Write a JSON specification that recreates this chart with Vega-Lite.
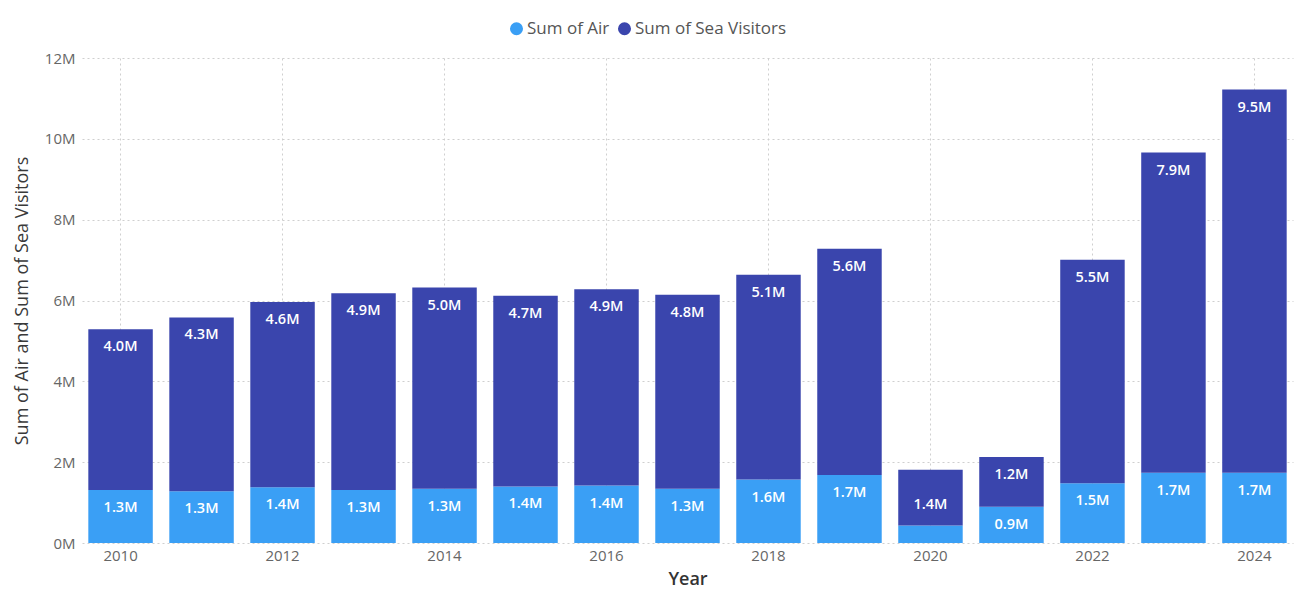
{
  "$schema": "https://vega.github.io/schema/vega-lite/v6.json",
  "width": 1211,
  "height": 485,
  "autosize": {"type": "none"},
  "padding": {"left": 82, "top": 58, "right": 3, "bottom": 55},
  "background": "white",
  "config": {
    "font": "Open Sans",
    "view": {"stroke": null},
    "locale": {"number": {"decimal": ".", "thousands": ",", "grouping": [3], "currency": ["", "M"]}}
  },
  "data": {
    "values": [
      {"year": 2010, "series": "Sum of Air", "value": 1.31},
      {"year": 2010, "series": "Sum of Sea Visitors", "value": 3.98},
      {"year": 2011, "series": "Sum of Air", "value": 1.28},
      {"year": 2011, "series": "Sum of Sea Visitors", "value": 4.30},
      {"year": 2012, "series": "Sum of Air", "value": 1.38},
      {"year": 2012, "series": "Sum of Sea Visitors", "value": 4.58},
      {"year": 2013, "series": "Sum of Air", "value": 1.31},
      {"year": 2013, "series": "Sum of Sea Visitors", "value": 4.87},
      {"year": 2014, "series": "Sum of Air", "value": 1.34},
      {"year": 2014, "series": "Sum of Sea Visitors", "value": 4.98},
      {"year": 2015, "series": "Sum of Air", "value": 1.40},
      {"year": 2015, "series": "Sum of Sea Visitors", "value": 4.72},
      {"year": 2016, "series": "Sum of Air", "value": 1.42},
      {"year": 2016, "series": "Sum of Sea Visitors", "value": 4.86},
      {"year": 2017, "series": "Sum of Air", "value": 1.34},
      {"year": 2017, "series": "Sum of Sea Visitors", "value": 4.80},
      {"year": 2018, "series": "Sum of Air", "value": 1.57},
      {"year": 2018, "series": "Sum of Sea Visitors", "value": 5.07},
      {"year": 2019, "series": "Sum of Air", "value": 1.68},
      {"year": 2019, "series": "Sum of Sea Visitors", "value": 5.60},
      {"year": 2020, "series": "Sum of Air", "value": 0.43},
      {"year": 2020, "series": "Sum of Sea Visitors", "value": 1.38},
      {"year": 2021, "series": "Sum of Air", "value": 0.90},
      {"year": 2021, "series": "Sum of Sea Visitors", "value": 1.23},
      {"year": 2022, "series": "Sum of Air", "value": 1.48},
      {"year": 2022, "series": "Sum of Sea Visitors", "value": 5.53},
      {"year": 2023, "series": "Sum of Air", "value": 1.74},
      {"year": 2023, "series": "Sum of Sea Visitors", "value": 7.92},
      {"year": 2024, "series": "Sum of Air", "value": 1.74},
      {"year": 2024, "series": "Sum of Sea Visitors", "value": 9.48}
    ]
  },
  "encoding": {
    "x": {
      "field": "year",
      "type": "ordinal",
      "scale": {"paddingInner": 0.204, "paddingOuter": 0.078},
      "axis": {
        "values": [2010, 2012, 2014, 2016, 2018, 2020, 2022, 2024],
        "labelAngle": 0,
        "title": "Year",
        "titleFont": "Open Sans",
        "titleFontSize": 18,
        "titleFontWeight": 600,
        "titleColor": "#333333",
        "titlePadding": 7,
        "labelFontSize": 15,
        "labelColor": "#666666",
        "labelPadding": 5,
        "domain": false,
        "ticks": false,
        "grid": true,
        "bandPosition": 0.5,
        "gridColor": "#cfcfcf",
        "gridDash": [2, 3],
        "gridWidth": 1
      }
    },
    "y": {
      "field": "value",
      "type": "quantitative",
      "stack": "zero",
      "scale": {"domain": [0, 12]},
      "axis": {
        "values": [0, 2, 4, 6, 8, 10, 12],
        "format": "$.0f",
        "title": "Sum of Air and Sum of Sea Visitors",
        "titleFont": "Open Sans",
        "titleFontSize": 18,
        "titleFontWeight": "normal",
        "titleColor": "#3a3a3a",
        "titlePadding": 13,
        "labelFontSize": 15,
        "labelColor": "#666666",
        "labelPadding": 7,
        "domain": false,
        "ticks": false,
        "grid": true,
        "gridColor": "#cfcfcf",
        "gridDash": [2, 3],
        "gridWidth": 1
      }
    },
    "order": {"field": "series", "sort": "ascending"}
  },
  "layer": [
    {
      "mark": {"type": "bar"},
      "encoding": {
        "color": {
          "field": "series",
          "type": "nominal",
          "scale": {"domain": ["Sum of Air", "Sum of Sea Visitors"], "range": ["#3A9FF5", "#3A45AD"]},
          "legend": {
            "title": null,
            "orient": "none",
            "direction": "horizontal",
            "legendX": 426,
            "legendY": -38,
            "symbolType": "circle",
            "symbolSize": 170,
            "symbolStrokeWidth": 0,
            "labelFontSize": 17,
            "labelColor": "#555555",
            "labelFont": "Open Sans",
            "labelOffset": 2,
            "columnPadding": 6
          }
        }
      }
    },
    {
      "transform": [{"filter": "datum.value >= 0.5"}],
      "mark": {"type": "text", "color": "white", "baseline": "middle", "dy": 18, "fontSize": 14.5, "fontWeight": 600, "font": "Open Sans"},
      "encoding": {
        "text": {"field": "value", "type": "quantitative", "format": "$.1f"}
      }
    }
  ]
}
